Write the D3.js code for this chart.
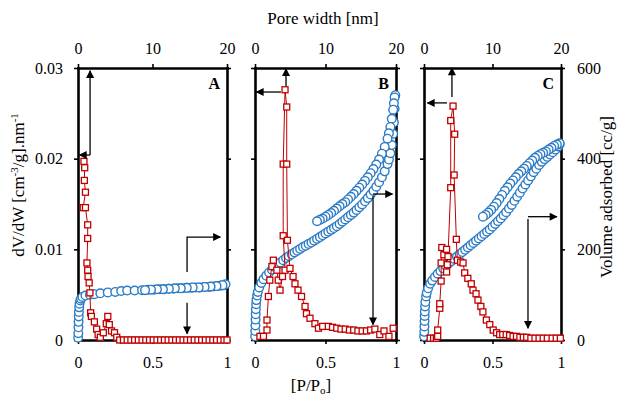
<!DOCTYPE html>
<html>
<head>
<meta charset="utf-8">
<script src="https://cdn.jsdelivr.net/npm/d3@7"></script>
<style>
  body { margin: 0; background: #fff; }
  svg { display: block; font-family: "Liberation Serif", "Times New Roman", serif; }
</style>
</head>
<body>
<div id="chart"></div>
<script>
// ---- tick values ----
const ticksP = [0, 0.5, 1];          // relative pressure (bottom)
const ticksW = [0, 10, 20];          // pore width nm (top)
const ticksL = [0, 0.01, 0.02, 0.03]; // dV/dW (left)
const ticksR = [0, 200, 400, 600];   // volume adsorbed (right)

// ---- panel A : isotherm (P/Po, cc/g) ----
const isoPA = [0.001,0.002,0.003,0.004,0.005,0.006,0.008,0.01,0.015,0.02,0.03,0.05,0.08,0.11,0.15,0.2,0.25,0.29,0.33,0.38,0.43,0.47,0.51,0.55,0.58,0.61,0.64,0.67,0.70,0.73,0.76,0.79,0.82,0.85,0.88,0.91,0.94,0.96,0.98,0.99,
               0.97,0.93,0.89,0.85,0.81,0.77,0.73,0.69,0.65,0.61,0.57,0.53,0.49,0.45];
const isoVA = [5,15,28,40,52,62,72,80,87,91,95,98,100,101,103,105,106,108,109,109,110,111,111,112,112,113,113,114,114,115,115,116,116,117,117,118,119,120,121,123,
               121,119,118,117,116,116,115,114,114,113,112,112,111,110];
// panel A : pore size distribution (nm, dV/dW)
const psdWA = [0.8,0.9,0.85,1.0,0.7,1.0,1.3,1.3,1.2,1.3,1.35,1.5,1.6,1.7,1.8,2.2,2.5,2.7,3.0,3.4,3.8,4.0,4.2,4.5,4.9,5.2,
               5.6,6.1,6.6,7.1,7.6,8.1,8.6,9.1,9.6,10.1,10.6,11.1,11.6,12.1,12.6,13.1,13.6,14.1,14.6,15.1,15.6,16.1,16.6,17.1,17.6,18.1,18.6,19.1,19.6,20.0];
const psdVA = [0.0197,0.0190,0.0176,0.0163,0.0146,0.0146,0.0127,0.0112,0.0085,0.0077,0.0070,0.0063,0.0052,0.0030,0.0026,0.0020,0.0012,0.0006,0.0003,0.0008,0.0018,0.0026,0.0017,0.0010,0.0008,0.0003,
               0,0,0,0,0,0,0,0,0,0,0,0,0,0,0,0,0,0,0,0,0,0,0,0,0,0,0,0,0,0];

// ---- panel B ----
const isoPB = [0.001,0.002,0.003,0.004,0.005,0.006,0.008,0.01,0.015,0.02,0.03,0.045,0.06,0.08,0.1,0.12,0.14,0.16,0.18,0.2,0.22,0.24,0.26,0.28,0.3,0.32,0.34,0.36,0.38,0.4,0.42,0.44,0.46,0.48,0.5,0.52,0.54,0.56,0.58,0.6,0.62,0.64,0.66,0.68,0.7,0.72,0.74,0.76,0.78,0.8,0.82,0.84,0.86,0.88,0.9,0.92,0.94,0.95,0.96,0.97,0.98,0.985,0.99,0.995,
               0.99,0.985,0.98,0.97,0.96,0.95,0.94,0.92,0.9,0.88,0.86,0.84,0.82,0.8,0.78,0.76,0.74,0.72,0.7,0.68,0.66,0.64,0.62,0.6,0.58,0.56,0.54,0.52,0.5,0.48,0.46,0.44];
const isoVB = [8,20,32,45,57,68,79,88,98,106,116,126,134,142,149,155,161,166,171,176,181,185,189,193,197,201,205,208,212,215,219,223,227,231,235,239,243,247,251,256,261,266,271,276,281,287,293,299,306,313,321,329,338,348,359,372,388,398,412,430,455,480,510,540,
               535,522,508,488,470,456,444,426,411,398,387,377,368,359,351,343,336,329,322,316,310,304,300,295,290,285,280,276,272,268,265,262];
const psdWB = [0.7,1.2,1.7,1.7,1.9,2.1,2.4,2.6,3.1,3.3,3.55,3.9,4.26,4.0,4.0,4.26,4.5,4.5,4.6,4.96,5.4,5.67,6.1,6.6,7.1,7.3,7.8,8.5,9.0,9.6,10.4,11.0,11.6,12.2,12.8,13.4,14.0,14.6,15.2,15.8,16.4,17.0,17.7,18.3,19.0,19.6];
const psdVB = [0.0004,0.0004,0.0011,0.0022,0.0048,0.0066,0.0081,0.0088,0.0077,0.0066,0.0055,0.0070,0.0077,0.0115,0.0194,0.0276,0.0257,0.0194,0.0110,0.0079,0.0070,0.0062,0.0055,0.0048,0.0037,0.0029,0.0024,0.0018,0.0013,0.0015,0.0015,0.0014,0.0013,0.0012,0.0012,0.0011,0.0011,0.0010,0.0010,0.0010,0.0011,0.0012,0.0006,0.0010,0.0004,0.0013];

// ---- panel C ----
const isoPC = [0.001,0.002,0.003,0.004,0.005,0.006,0.008,0.01,0.015,0.02,0.03,0.045,0.06,0.08,0.1,0.12,0.14,0.16,0.18,0.2,0.22,0.24,0.26,0.28,0.3,0.32,0.34,0.36,0.38,0.4,0.42,0.44,0.46,0.48,0.5,0.52,0.54,0.56,0.58,0.6,0.62,0.64,0.66,0.68,0.7,0.72,0.74,0.76,0.78,0.8,0.82,0.84,0.86,0.88,0.9,0.92,0.94,0.96,0.98,0.99,
               0.99,0.97,0.95,0.93,0.91,0.89,0.87,0.85,0.83,0.81,0.79,0.77,0.75,0.73,0.71,0.69,0.67,0.65,0.63,0.61,0.59,0.57,0.55,0.53,0.51,0.49,0.47,0.45,0.43];
const isoVC = [8,18,30,42,53,63,74,84,96,104,114,124,131,139,146,152,158,164,169,174,179,184,189,194,199,204,209,214,219,224,229,234,239,244,250,256,262,268,275,282,290,298,307,316,325,334,343,352,361,370,378,386,393,399,404,409,414,420,427,432,
               434,431,428,424,420,416,413,410,406,402,396,390,384,378,372,366,359,352,345,337,329,320,311,302,294,287,281,276,272];
const psdWC = [0.9,1.4,1.8,2.0,2.0,2.3,2.3,2.5,2.5,2.6,2.9,3.3,3.3,3.4,3.5,3.9,3.9,4.24,4.48,4.4,4.72,4.87,5.35,5.7,5.94,6.4,6.9,7.15,7.6,7.88,8.3,8.6,9.1,9.6,10.1,10.6,11.05,11.5,12.0,12.5,13.0,13.5,14.0,14.5,15.0,15.6,16.2,16.8,17.4,18.0,18.7,19.3,19.9];
const psdVC = [0.0002,0.0002,0.0002,0.0004,0.0011,0.0035,0.0040,0.0065,0.0085,0.0102,0.0094,0.0100,0.0075,0.0083,0.0092,0.0168,0.0242,0.0258,0.0227,0.0182,0.0111,0.0088,0.0086,0.0085,0.0074,0.0068,0.0062,0.0055,0.0051,0.0044,0.0037,0.0031,0.0022,0.0017,0.0011,0.0008,0.0006,0.0006,0.0006,0.0005,0.0004,0.0004,0.0003,0.0003,0.0003,0.0002,0.0002,0.0002,0.0002,0.0002,0.0002,0.0002,0.0002];

// arrows in (P/Po, cc/g) units: [p1, v1, p2, v2]
const arrowsA = [[0.081,408,0.081,594],[0.081,408,0.010,408],[0.732,150,0.732,227,0.955,227],[0.732,82,0.732,14]];
const arrowsB = [[0.184,547,0.010,547],[0.22,560,0.22,598],[0.837,322,0.975,322],[0.837,318,0.837,34]];
const arrowsC = [[0.204,536,0.204,600],[0.168,523,0.025,523],[0.759,272,0.970,272],[0.759,267,0.759,26]];

// ---- layout ----
const W = 622, H = 398;
const yTop = 68, yBot = 340;
const blue = '#2b7bc4', red = '#c00000';
const FONT = 'Liberation Serif';

const panels = [
  {name:'A', x0:78,  x1:227, isoP:isoPA, isoV:isoVA, psdW:psdWA, psdV:psdVA, arrows:arrowsA, left:true,  right:false},
  {name:'B', x0:255, x1:396, isoP:isoPB, isoV:isoVB, psdW:psdWB, psdV:psdVB, arrows:arrowsB, left:false, right:false},
  {name:'C', x0:424, x1:561, isoP:isoPC, isoV:isoVC, psdW:psdWC, psdV:psdVC, arrows:arrowsC, left:false, right:true}
];

const svg = d3.select('#chart').append('svg').attr('width', W).attr('height', H);

svg.append('defs').append('marker')
  .attr('id', 'head').attr('viewBox', '0 0 10 10')
  .attr('refX', 9).attr('refY', 5)
  .attr('markerWidth', 9).attr('markerHeight', 8)
  .attr('markerUnits', 'userSpaceOnUse').attr('orient', 'auto')
  .append('path').attr('d', 'M0,0 L10,5 L0,10 Z').attr('fill', '#000');

const yL = d3.scaleLinear().domain([0, 0.03]).range([yBot, yTop]);
const yR = d3.scaleLinear().domain([0, 600]).range([yBot, yTop]);

function styleAxis(sel) {
  sel.attr('font-family', FONT).attr('font-size', 16);
  sel.select('.domain').attr('stroke-width', 2.6).attr('stroke-linecap', 'square');
  sel.selectAll('.tick line').attr('stroke-width', 1.6);
  sel.selectAll('.tick text').attr('fill', '#000');
}

panels.forEach(p => {
  const xP = d3.scaleLinear().domain([0, 1]).range([p.x0, p.x1]);
  const xW = d3.scaleLinear().domain([0, 20]).range([p.x0, p.x1]);
  const g = svg.append('g');

  g.append('g').attr('transform', `translate(0,${yBot})`)
    .call(d3.axisBottom(xP).tickValues(ticksP).tickSize(4).tickSizeOuter(0).tickPadding(13).tickFormat(d3.format('')))
    .call(styleAxis);
  g.append('g').attr('transform', `translate(0,${yTop})`)
    .call(d3.axisTop(xW).tickValues(ticksW).tickSize(4).tickSizeOuter(0).tickPadding(10).tickFormat(d3.format('')))
    .call(styleAxis);
  g.append('g').attr('transform', `translate(${p.x0},0)`)
    .call(d3.axisLeft(yL).tickValues(ticksL).tickSize(4).tickSizeOuter(0).tickPadding(11)
      .tickFormat(p.left ? d3.format('') : ''))
    .call(styleAxis);
  g.append('g').attr('transform', `translate(${p.x1},0)`)
    .call(d3.axisRight(yR).tickValues(ticksR).tickSize(4).tickSizeOuter(0).tickPadding(12)
      .tickFormat(p.right ? d3.format('') : ''))
    .call(styleAxis);

  // isotherm
  const iso = p.isoP.map((v, i) => [v, p.isoV[i]]);
  g.append('g').selectAll('circle').data(iso).join('circle')
    .attr('cx', d => xP(d[0])).attr('cy', d => yR(d[1])).attr('r', 4.3)
    .attr('fill', '#fff').attr('stroke', blue).attr('stroke-width', 1.4);

  // pore size distribution
  const psd = p.psdW.map((w, i) => [w, p.psdV[i]]);
  g.append('path').datum(psd)
    .attr('d', d3.line().x(d => xW(d[0])).y(d => yL(d[1])))
    .attr('fill', 'none').attr('stroke', red).attr('stroke-width', 1);
  g.append('g').selectAll('rect').data(psd).join('rect')
    .attr('x', d => xW(d[0]) - 3).attr('y', d => yL(d[1]) - 3)
    .attr('width', 6).attr('height', 6)
    .attr('fill', '#fff').attr('stroke', red).attr('stroke-width', 1.3);

  // arrows
  p.arrows.forEach(a => {
    const pts = [];
    for (let i = 0; i < a.length; i += 2) pts.push([xP(a[i]), yR(a[i + 1])]);
    g.append('path').attr('d', d3.line()(pts))
      .attr('fill', 'none').attr('stroke', '#000').attr('stroke-width', 1.3)
      .attr('marker-end', 'url(#head)');
  });

  g.append('text').attr('x', p.x1 - 7).attr('y', 89)
    .attr('text-anchor', 'end').attr('font-weight', 'bold').attr('font-size', 16)
    .text(p.name);
});

// axis titles
svg.append('text').attr('x', 323).attr('y', 24).attr('text-anchor', 'middle')
  .attr('font-size', 17).text('Pore width [nm]');

const bt = svg.append('text').attr('x', 311).attr('y', 391).attr('text-anchor', 'middle').attr('font-size', 17);
bt.append('tspan').text('[P/P');
bt.append('tspan').attr('font-size', 11).attr('dy', 3).text('o');
bt.append('tspan').attr('dy', -3).text(']');

const lt = svg.append('text').attr('transform', 'translate(24,185) rotate(-90)')
  .attr('text-anchor', 'middle').attr('font-size', 17);
lt.append('tspan').text('dV/dW [cm');
lt.append('tspan').attr('font-size', 11).attr('dy', -6).text('-3');
lt.append('tspan').attr('dy', 6).text('/g].nm');
lt.append('tspan').attr('font-size', 11).attr('dy', -6).text('-1');

svg.append('text').attr('transform', 'translate(612,197) rotate(-90)')
  .attr('text-anchor', 'middle').attr('font-size', 17)
  .text('Volume adsorbed [cc/g]');
</script>
</body>
</html>
